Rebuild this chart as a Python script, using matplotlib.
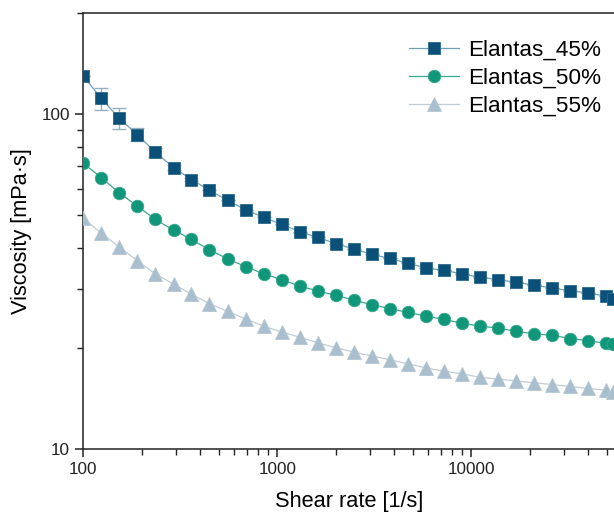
import matplotlib
matplotlib.use("Agg")
import matplotlib.pyplot as plt
from matplotlib.ticker import LogLocator, NullFormatter, FixedLocator, FixedFormatter

plt.rcParams['font.family'] = ['Liberation Sans', 'DejaVu Sans']

shear_rate = [100, 124, 153, 190, 235, 292, 361, 447, 554, 686, 850,
              1052, 1303, 1614, 2000, 2477, 3068, 3800, 4707, 5830, 7221,
              8944, 11078, 13721, 16995, 21050, 26073, 32295, 40000, 49545, 53800]

visc_45 = [129.8, 111.4, 97.1, 86.9, 77.0, 69.3, 63.8, 59.3, 55.3, 51.9, 49.2,
           46.9, 44.6, 42.9, 41.1, 39.6, 38.2, 37.1, 35.9, 34.8, 34.2,
           33.4, 32.6, 32.1, 31.5, 30.9, 30.3, 29.7, 29.3, 28.6, 28.1]
err_45 = [0, 8.5, 7.0, 4.0, 2.5, 1.0, 0.5, 0, 0, 0, 0,
          0, 0, 0, 0, 0, 0, 0, 0, 0, 0,
          0, 0, 0, 0, 0, 0, 0, 0, 0, 0]

visc_50 = [71.3, 64.7, 58.2, 53.2, 48.5, 45.1, 42.3, 39.4, 37.0, 35.1, 33.4,
           32.1, 30.7, 29.7, 28.8, 27.9, 27.0, 26.3, 25.6, 25.0, 24.4,
           23.8, 23.3, 23.0, 22.5, 22.1, 21.9, 21.4, 21.1, 20.7, 20.6]

visc_55 = [48.9, 44.1, 40.2, 36.5, 33.4, 31.1, 29.0, 27.2, 25.8, 24.5, 23.3,
           22.4, 21.6, 20.8, 20.1, 19.5, 19.0, 18.5, 18.0, 17.5, 17.1,
           16.8, 16.4, 16.2, 16.0, 15.8, 15.6, 15.4, 15.2, 15.0, 14.8]

labels = ["Elantas_45%", "Elantas_50%", "Elantas_55%"]

fig = plt.figure(figsize=(6.14, 5.13), dpi=100)
ax = fig.add_axes([83.3 / 614, 63.7 / 513, 1 - 83.3 / 614, 436.0 / 513])

ax.errorbar(shear_rate, visc_45, yerr=err_45, fmt='none', ecolor='#8fb0c4',
            elinewidth=1.0, capsize=5, capthick=1.0, zorder=2)
ax.plot(shear_rate, visc_45, '-', color='#6f9fb5', lw=0.9, marker='s', ms=8,
        mfc='#0a5078', mec='#2a6a8c', mew=0.6, label=labels[0], zorder=3)
ax.plot(shear_rate, visc_50, '-', color='#3aa88c', lw=0.9, marker='o', ms=9,
        mfc='#10977a', mec='#3aa88c', mew=0.6, label=labels[1], zorder=3)
ax.plot(shear_rate, visc_55, '-', color='#c0cdd6', lw=0.9, marker='^', ms=9.5,
        mfc='#a9bfcd', mec='#b5c7d3', mew=0.6, label=labels[2], zorder=3)

ax.set_xscale('log')
ax.set_yscale('log')
ax.set_xlim(100, 54400)
ax.set_ylim(10, 200)

ax.xaxis.set_major_locator(FixedLocator([100, 1000, 10000]))
ax.xaxis.set_major_formatter(FixedFormatter(['100', '1000', '10000']))
ax.xaxis.set_minor_locator(LogLocator(base=10, subs=range(2, 10)))
ax.xaxis.set_minor_formatter(NullFormatter())
ax.yaxis.set_major_locator(FixedLocator([10, 100]))
ax.yaxis.set_major_formatter(FixedFormatter(['10', '100']))
ax.yaxis.set_minor_locator(LogLocator(base=10, subs=range(2, 10)))
ax.yaxis.set_minor_formatter(NullFormatter())

ax.tick_params(which='major', direction='out', length=6, width=1.1, labelsize=12.3, colors='#222222')
ax.tick_params(which='minor', direction='out', length=4, width=1.0, colors='#222222')
for s in ['left', 'bottom', 'top']:
    ax.spines[s].set_linewidth(1.1)
    ax.spines[s].set_color('#222222')
ax.spines['right'].set_visible(False)

ax.set_xlabel('Shear rate [1/s]', fontsize=15.7, labelpad=10)
ax.set_ylabel('Viscosity [mPa·s]', fontsize=15.7, labelpad=7)

leg = ax.legend(loc='upper right', frameon=False, fontsize=16.2, handlelength=2.2,
                handletextpad=0.4, labelspacing=0.3, borderaxespad=0.3,
                bbox_to_anchor=(1.005, 0.975))

fig.savefig('out.png', dpi=100)
